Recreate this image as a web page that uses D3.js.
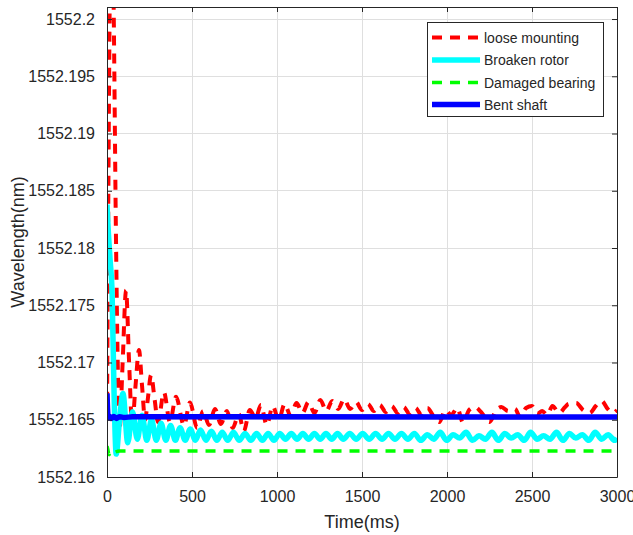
<!DOCTYPE html>
<html>
<head>
<meta charset="utf-8">
<script src="https://cdn.jsdelivr.net/npm/d3@7"></script>
<style>
  body { margin: 0; background: #fff; }
  text { font-family: Arial, "Liberation Sans", sans-serif; fill: #262626; }
</style>
</head>
<body>
<svg id="chart" width="633" height="535"></svg>
<script>
// ---------- data ----------
const xTicks = [0, 500, 1000, 1500, 2000, 2500, 3000];
const xTickLabels = ["0", "500", "1000", "1500", "2000", "2500", "3000"];
const yTicks = [1552.16, 1552.165, 1552.17, 1552.175, 1552.18, 1552.185, 1552.19, 1552.195, 1552.2];
const yTickLabels = ["1552.16", "1552.165", "1552.17", "1552.175", "1552.18", "1552.185", "1552.19", "1552.195", "1552.2"];
const seriesNames = ["loose mounting", "Broaken rotor", "Damaged bearing", "Bent shaft"];

const looseTime = [0, 8, 18, 28, 40, 52, 63, 74, 92, 112, 130, 148, 168, 188, 206, 224, 240, 259, 280, 300, 335, 370, 406, 453, 488,
  530, 565, 600, 635, 670, 705, 740, 775, 805, 840, 875, 905, 940, 975, 1010, 1045, 1080, 1115, 1150, 1185, 1220, 1255, 1290, 1325,
  1360, 1395, 1430, 1465, 1500, 1535, 1570, 1605, 1640, 1675, 1710, 1745, 1780, 1815, 1850, 1885, 1920, 1955, 1990, 2025, 2060,
  2095, 2130, 2165, 2200, 2250, 2290, 2320, 2360, 2400, 2430, 2465, 2500, 2530, 2560, 2590, 2620, 2660, 2695, 2715, 2760, 2800,
  2840, 2875, 2910, 2945, 2975, 3000];
const looseValue = [1552.1650, 1552.1850, 1552.2050, 1552.2140, 1552.2000, 1552.1820, 1552.1700, 1552.1642, 1552.1700, 1552.1763,
  1552.1700, 1552.1646, 1552.1680, 1552.1711, 1552.1680, 1552.1650, 1552.1668, 1552.1689, 1552.1668, 1552.1648, 1552.1674,
  1552.1648, 1552.1670, 1552.1645, 1552.1665,
  1552.16428, 1552.16576, 1552.16454, 1552.16594, 1552.16463, 1552.16576, 1552.16428, 1552.16550, 1552.16402, 1552.16585,
  1552.16515, 1552.16629, 1552.16454, 1552.16620, 1552.16498, 1552.16638, 1552.16533, 1552.16646, 1552.16559, 1552.16655,
  1552.16559, 1552.16673, 1552.16576, 1552.16664, 1552.16594, 1552.16681, 1552.16594, 1552.16655, 1552.16585, 1552.16638,
  1552.16576, 1552.16629, 1552.16568, 1552.16620, 1552.16559, 1552.16611, 1552.16550, 1552.16603, 1552.16542, 1552.16603,
  1552.16533, 1552.16480, 1552.16585, 1552.16542, 1552.16603, 1552.16472, 1552.16585, 1552.16611, 1552.16568, 1552.16480,
  1552.16585, 1552.16611, 1552.16576, 1552.16594, 1552.16524, 1552.16603, 1552.16620, 1552.16550, 1552.16576, 1552.16542,
  1552.16620, 1552.16559, 1552.16611, 1552.16638, 1552.16646, 1552.16585, 1552.16559, 1552.16620, 1552.16664, 1552.16594,
  1552.16559, 1552.16585];

const rotorTime = [0, 5, 18, 30, 42, 54, 74, 94, 122, 150, 178, 206, 234, 262, 290, 318, 346, 374, 402, 430, 460, 490, 520, 550,
  582, 614, 646, 678, 710, 744, 778, 812, 846, 880, 914, 948, 982, 1016, 1050, 1084, 1118, 1152, 1186, 1220, 1254, 1288, 1322,
  1356, 1390, 1428, 1466, 1504, 1542, 1580, 1618, 1656, 1694, 1732, 1770, 1808, 1846, 1884, 1922, 1960, 1998, 2036, 2074, 2112,
  2150, 2188, 2226, 2264, 2302, 2340, 2378, 2416, 2454, 2492, 2530, 2568, 2606, 2644, 2682, 2720, 2758, 2796, 2834, 2872, 2910,
  2948, 2986, 3000];
const rotorValue = [1552.1838, 1552.1822, 1552.1790, 1552.1760, 1552.1670, 1552.1620, 1552.1650, 1552.1673, 1552.1630, 1552.1657,
  1552.1633, 1552.1654, 1552.1632, 1552.1650, 1552.1632, 1552.1647, 1552.1632, 1552.1645, 1552.1632, 1552.1643, 1552.1632,
  1552.1642, 1552.1632, 1552.1641, 1552.1632, 1552.1640, 1552.1632, 1552.1639, 1552.1632, 1552.1639, 1552.1632, 1552.1638,
  1552.1632, 1552.1638, 1552.1632, 1552.1638, 1552.1632, 1552.1638, 1552.1633, 1552.1638, 1552.1633, 1552.1638, 1552.1633,
  1552.1638, 1552.1633, 1552.1638, 1552.1633, 1552.1638, 1552.1633, 1552.1638, 1552.1633, 1552.1638, 1552.1633, 1552.1638,
  1552.1633, 1552.1638, 1552.1633, 1552.1638, 1552.1633, 1552.1638, 1552.1632, 1552.1637, 1552.1633, 1552.1639, 1552.1632,
  1552.1637, 1552.1634, 1552.1639, 1552.1632, 1552.1636, 1552.1633, 1552.1639, 1552.1632, 1552.1638, 1552.1634, 1552.1637,
  1552.1632, 1552.1639, 1552.1633, 1552.1636, 1552.1633, 1552.1639, 1552.1632, 1552.1638, 1552.1634, 1552.1637, 1552.1632,
  1552.1639, 1552.1633, 1552.1637, 1552.1632, 1552.1634];

const bearingTime = [0, 5, 12, 20, 32, 50, 75, 3000];
const bearingValue = [1552.16270, 1552.16240, 1552.16195, 1552.16215, 1552.16200, 1552.16218, 1552.16226, 1552.16227];

const shaftTime = [0, 3, 8, 15, 25, 40, 55, 75, 100, 150, 3000];
const shaftValue = [1552.16730, 1552.16600, 1552.16515, 1552.16530, 1552.16510, 1552.16528, 1552.16512, 1552.16526,
  1552.16520, 1552.16526, 1552.16524];

(function () {
// ---------- layout ----------
const svg = d3.select("#chart");
const mLeft = 107, mRight = 617, mTop = 7, mBottom = 477;
const x = d3.scaleLinear().domain([0, 3000]).range([mLeft, mRight]);
const y = d3.scaleLinear().domain([1552.16, 1552.20105]).range([mBottom, mTop]);
const axisColor = "#262626";

// grid
const grid = svg.append("g");
grid.selectAll(".gx").data(xTicks).join("line")
  .attr("x1", d => x(d)).attr("x2", d => x(d)).attr("y1", mTop).attr("y2", mBottom)
  .attr("stroke", "#dfdfdf").attr("stroke-width", 1).attr("shape-rendering", "crispEdges");
grid.selectAll(".gy").data(yTicks).join("line")
  .attr("x1", mLeft).attr("x2", mRight).attr("y1", d => y(d)).attr("y2", d => y(d))
  .attr("stroke", "#dfdfdf").attr("stroke-width", 1).attr("shape-rendering", "crispEdges");

// clip
svg.append("clipPath").attr("id", "clip").append("rect")
  .attr("x", mLeft).attr("y", mTop).attr("width", mRight - mLeft).attr("height", mBottom - mTop);

const styles = [
  { color: "#ff0000", width: 4, dash: "10,8" },
  { color: "#00ffff", width: 5.5, dash: null },
  { color: "#00ff00", width: 3.5, dash: "10,8" },
  { color: "#0000ff", width: 5.5, dash: null }
];
const seriesData = [
  looseTime.map((t, i) => [t, looseValue[i]]),
  rotorTime.map((t, i) => [t, rotorValue[i]]),
  bearingTime.map((t, i) => [t, bearingValue[i]]),
  shaftTime.map((t, i) => [t, shaftValue[i]])
];

const line = d3.line().x(d => x(d[0])).y(d => y(d[1])).curve(d3.curveMonotoneX);
const plot = svg.append("g").attr("clip-path", "url(#clip)");
seriesData.forEach((data, i) => {
  const s = styles[i];
  plot.append("path").datum(data)
    .attr("d", line)
    .attr("fill", "none")
    .attr("stroke", s.color)
    .attr("stroke-width", s.width)
    .attr("stroke-dasharray", s.dash)
    .attr("stroke-linejoin", "round");
});

// axes (box with inward ticks)
const axG = svg.append("g");
const xBottom = d3.axisBottom(x).tickValues(xTicks).tickSizeInner(-5).tickSizeOuter(0).tickPadding(14)
  .tickFormat((d, i) => xTickLabels[i]);
const xTop = d3.axisTop(x).tickValues(xTicks).tickSizeInner(-5).tickSizeOuter(0).tickFormat("");
const yLeft = d3.axisLeft(y).tickValues(yTicks).tickSizeInner(-5).tickSizeOuter(0).tickPadding(12)
  .tickFormat((d, i) => yTickLabels[i]);
const yRight = d3.axisRight(y).tickValues(yTicks).tickSizeInner(-5).tickSizeOuter(0).tickFormat("");

function styleAxis(g) {
  g.selectAll("path").attr("stroke", axisColor).attr("stroke-width", 1);
  g.selectAll("line").attr("stroke", axisColor).attr("stroke-width", 1);
  g.selectAll("text").attr("fill", axisColor).style("font-size", "16px")
    .style("font-family", "Arial, 'Liberation Sans', sans-serif");
}
axG.append("g").attr("transform", `translate(0,${mBottom})`).call(xBottom).call(styleAxis);
axG.append("g").attr("transform", `translate(0,${mTop})`).call(xTop).call(styleAxis);
axG.append("g").attr("transform", `translate(${mLeft},0)`).call(yLeft).call(styleAxis);
axG.append("g").attr("transform", `translate(${mRight},0)`).call(yRight).call(styleAxis);

// axis labels
svg.append("text").attr("x", (mLeft + mRight) / 2).attr("y", 528)
  .attr("text-anchor", "middle").style("font-size", "18px").text("Time(ms)");
svg.append("text").attr("transform", `translate(24,${(mTop + mBottom) / 2}) rotate(-90)`)
  .attr("text-anchor", "middle").style("font-size", "18px").text("Wavelength(nm)");

// legend
const lg = svg.append("g");
lg.append("rect").attr("x", 427.5).attr("y", 22.5).attr("width", 176).attr("height", 94)
  .attr("fill", "#fff").attr("stroke", "#262626").attr("stroke-width", 1);
const rowY = [37.5, 60, 82.5, 104.5];
seriesNames.forEach((name, i) => {
  const s = styles[i];
  lg.append("line").attr("x1", 432).attr("x2", 480).attr("y1", rowY[i]).attr("y2", rowY[i])
    .attr("stroke", s.color).attr("stroke-width", s.width).attr("stroke-dasharray", s.dash);
  lg.append("text").attr("x", 484).attr("y", rowY[i]).attr("dy", "0.36em")
    .style("font-size", "14px").attr("fill", "#000").text(name);
});
})();
</script>
</body>
</html>
